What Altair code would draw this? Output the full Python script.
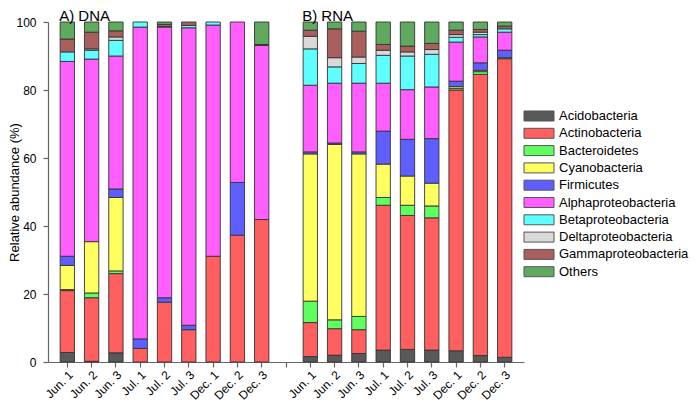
import altair as alt
import pandas as pd

phyla = ["Acidobacteria", "Actinobacteria", "Bacteroidetes", "Cyanobacteria", "Firmicutes",
         "Alphaproteobacteria", "Betaproteobacteria", "Deltaproteobacteria",
         "Gammaproteobacteria", "Others"]
colors = ["#595959", "#FF5F5F", "#5FFF5F", "#FFFF5F", "#5F5FFF",
          "#FF5FFF", "#5FFFFF", "#D9D9D9", "#AA5F5F", "#5FAA5F"]

samples = ["Jun. 1", "Jun. 2", "Jun. 3", "Jul. 1", "Jul. 2", "Jul. 3", "Dec. 1", "Dec. 2", "Dec. 3"]

# values per sample, in phyla order (bottom to top)
dna = {
    "Jun. 1": [2.8, 18.2, 0.3, 7.1, 2.7, 57.3, 2.8, 0.0, 3.8, 5.0],
    "Jun. 2": [0.2, 18.7, 1.4, 15.1, 0.0, 53.7, 2.6, 0.4, 4.9, 3.0],
    "Jun. 3": [2.7, 23.3, 0.8, 21.6, 2.5, 39.1, 4.6, 1.0, 1.8, 2.6],
    "Jul. 1": [0.0, 4.0, 0.0, 0.0, 2.8, 91.7, 1.5, 0.0, 0.0, 0.0],
    "Jul. 2": [0.0, 17.6, 0.0, 0.0, 1.3, 79.6, 0.2, 0.0, 0.6, 0.7],
    "Jul. 3": [0.0, 9.5, 0.0, 0.0, 1.3, 87.5, 0.7, 0.0, 1.0, 0.0],
    "Dec. 1": [0.0, 31.1, 0.0, 0.0, 0.0, 68.0, 0.9, 0.0, 0.0, 0.0],
    "Dec. 2": [0.0, 37.3, 0.0, 0.0, 15.5, 47.2, 0.0, 0.0, 0.0, 0.0],
    "Dec. 3": [0.0, 41.9, 0.0, 0.0, 0.0, 51.2, 0.0, 0.0, 0.3, 6.6],
}
rna = {
    "Jun. 1": [1.6, 10.0, 6.3, 43.3, 0.6, 19.6, 10.7, 3.7, 1.8, 2.4],
    "Jun. 2": [2.0, 7.8, 2.6, 51.6, 0.4, 17.6, 4.8, 2.7, 8.5, 2.0],
    "Jun. 3": [2.5, 7.0, 3.9, 47.8, 0.6, 20.2, 5.8, 1.9, 7.6, 2.7],
    "Jul. 1": [3.5, 42.6, 2.3, 9.8, 9.7, 14.1, 8.2, 1.5, 1.7, 6.6],
    "Jul. 2": [3.7, 39.4, 3.0, 8.6, 10.8, 14.6, 9.9, 1.2, 1.7, 7.1],
    "Jul. 3": [3.5, 38.9, 3.5, 6.7, 13.1, 15.2, 9.6, 1.4, 1.8, 6.3],
    "Dec. 1": [3.3, 76.7, 0.5, 0.5, 1.6, 11.5, 1.4, 0.8, 1.3, 2.4],
    "Dec. 2": [1.9, 82.7, 0.8, 0.4, 2.2, 7.6, 0.7, 0.7, 0.8, 2.2],
    "Dec. 3": [1.4, 87.8, 0.3, 0.0, 2.2, 5.3, 1.0, 0.0, 0.8, 1.2],
}

panel_titles = ["A) DNA", "B) RNA"]

keys = [f"DNA|{s}" for s in samples] + ["gap|"] + [f"RNA|{s}" for s in samples]

rows = []
for prefix, table in (("DNA", dna), ("RNA", rna)):
    for s in samples:
        for i, (p, v) in enumerate(zip(phyla, table[s])):
            if v > 0:
                rows.append({"key": f"{prefix}|{s}", "phylum": p, "idx": i, "value": v})
df = pd.DataFrame(rows)

titles_df = pd.DataFrame({"key": ["DNA|Jun. 1", "RNA|Jun. 1"], "label": panel_titles, "y": [100, 100]})

FONT = "Liberation Sans"

x_scale = alt.Scale(domain=keys, paddingInner=0.41, paddingOuter=0.5)
y_scale = alt.Scale(domain=[0, 100])

bars = alt.Chart(df).mark_bar(stroke="#333333", strokeWidth=0.9).encode(
    x=alt.X("key:N", scale=x_scale, sort=keys,
            axis=alt.Axis(title=None, labelExpr="split(datum.label, '|')[1]", labelAngle=-45,
                          labelFontSize=12, labelFont=FONT, labelColor="#000000",
                          tickSize=5, tickColor="#666666", domainColor="#666666",
                          labelPadding=2)),
    y=alt.Y("value:Q", stack="zero", scale=y_scale,
            axis=alt.Axis(title="Relative abundance (%)", values=[0, 20, 40, 60, 80, 100],
                          grid=False, labelFontSize=12, labelFont=FONT, labelColor="#000000",
                          tickSize=5, tickColor="#666666", domainColor="#666666",
                          labelPadding=7,
                          titleFontSize=13, titleFont=FONT, titleFontWeight="normal",
                          titleColor="#000000", titleX=-27)),
    color=alt.Color("phylum:N", scale=alt.Scale(domain=phyla, range=colors),
                    legend=alt.Legend(title=None, orient="none", legendX=483, legendY=86,
                                      symbolType="M-2,-0.667h4v1.333h-4z", symbolSize=225,
                                      symbolStrokeColor="#555555", symbolStrokeWidth=1,
                                      labelFontSize=13, labelFont=FONT, labelColor="#000000",
                                      rowPadding=2.3, labelOffset=12)),
    order=alt.Order("idx:Q", sort="ascending"),
)

titles = alt.Chart(titles_df).mark_text(align="left", baseline="alphabetic", fontSize=15, font=FONT,
                                       dx=-1, dy=-1, color="#000000").encode(
    x=alt.X("key:N", scale=x_scale, sort=keys, bandPosition=0),
    y=alt.Y("y:Q", scale=y_scale),
    text="label:N",
)

chart = alt.layer(bars, titles).properties(
    width=476, height=340,
    autosize=alt.AutoSizeParams(type="none"),
    padding={"left": 40, "top": 14, "right": 165, "bottom": 40},
).configure_view(stroke=None).configure_axis(domainWidth=1.2, tickWidth=1.2)

chart.save("out.html", embed_options={"renderer": "svg", "actions": False})
